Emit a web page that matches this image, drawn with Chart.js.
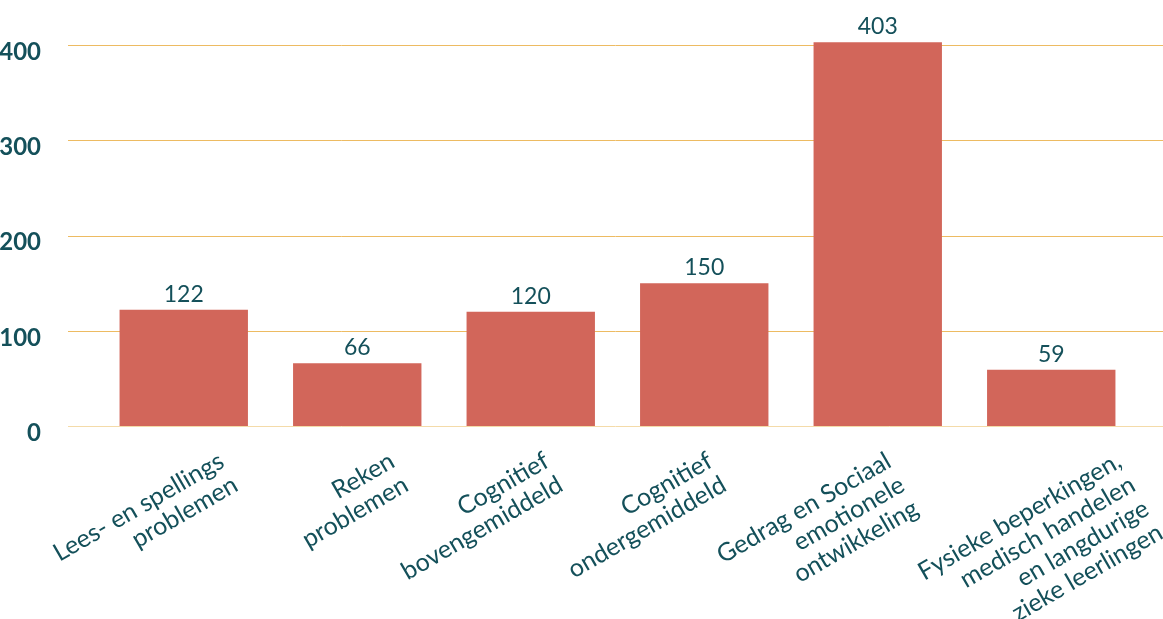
<!DOCTYPE html>
<html>
<head>
<meta charset="utf-8">
<script src="https://cdn.jsdelivr.net/npm/chart.js@4"></script>
<style>
  html, body { margin: 0; padding: 0; background: #fff; }
  #wrap { width: 1163px; height: 619px; position: relative; }
</style>
</head>
<body>
<div id="wrap"><canvas id="chart"></canvas></div>
<script>
const categories = [
  ['Lees- en spellings', 'problemen'],
  ['Reken', 'problemen'],
  ['Cognitief', 'bovengemiddeld'],
  ['Cognitief', 'ondergemiddeld'],
  ['Gedrag en Sociaal', 'emotionele', 'ontwikkeling'],
  ['Fysieke beperkingen,', 'medisch handelen', 'en langdurige', 'zieke leerlingen']
];
const values = [122, 66, 120, 150, 403, 59];
const yTicks = [0, 100, 200, 300, 400];

const textColor = '#14505a';
const barColor = '#d2665a';
const gridColor = '#edbb62';
const zeroColor = '#f4dba9';

// horizontal shift of each rotated category label, as in the original layout
const labelShift = [38, 35, 16, 6, 11, 68];

// grid lines run from left of the plot to the right edge of the canvas
const gridPlugin = {
  id: 'gridExtend',
  beforeDatasetsDraw(chart) {
    const y = chart.scales.y;
    const ctx = chart.ctx;
    ctx.save();
    ctx.lineWidth = 1;
    yTicks.forEach(v => {
      const py = Math.round(y.getPixelForValue(v)) + 0.5;
      ctx.strokeStyle = v === 0 ? zeroColor : gridColor;
      ctx.beginPath();
      ctx.moveTo(68, py);
      ctx.lineTo(chart.width, py);
      ctx.stroke();
    });
    ctx.restore();
  }
};

// value labels above the bars
const valuePlugin = {
  id: 'valueLabels',
  afterDatasetsDraw(chart) {
    const ctx = chart.ctx;
    const meta = chart.getDatasetMeta(0);
    ctx.save();
    ctx.fillStyle = textColor;
    ctx.font = '23px Lato';
    ctx.textAlign = 'center';
    ctx.textBaseline = 'bottom';
    meta.data.forEach((bar, i) => {
      ctx.fillText(String(values[i]), bar.x, bar.y - 4);
    });
    ctx.restore();
  }
};

// rotated, right aligned multi-line category labels
const categoryPlugin = {
  id: 'categoryLabels',
  afterDraw(chart) {
    const x = chart.scales.x;
    const ctx = chart.ctx;
    ctx.save();
    ctx.fillStyle = textColor;
    ctx.font = '25px Lato';
    ctx.textAlign = 'right';
    ctx.textBaseline = 'middle';
    categories.forEach((lines, i) => {
      ctx.save();
      ctx.translate(x.getPixelForValue(i) + labelShift[i], x.top + 33);
      ctx.rotate(-Math.PI / 6);
      lines.forEach((line, j) => ctx.fillText(line, 0, j * 27.5));
      ctx.restore();
    });
    ctx.restore();
  }
};

new Chart(document.getElementById('chart'), {
  type: 'bar',
  data: {
    labels: categories,
    datasets: [{
      data: values,
      backgroundColor: barColor,
      borderWidth: 0,
      barPercentage: 0.74,
      categoryPercentage: 1
    }]
  },
  options: {
    responsive: true,
    maintainAspectRatio: false,
    animation: false,
    layout: { padding: { top: 7, right: 25, left: 0, bottom: 0 } },
    plugins: {
      legend: { display: false },
      tooltip: { enabled: false }
    },
    scales: {
      x: {
        grid: { display: false, drawTicks: false },
        border: { display: false },
        afterFit(scale) { scale.height = 193; },
        ticks: { display: false }
      },
      y: {
        min: 0,
        max: 440,
        grid: { display: false },
        border: { display: false },
        afterFit(scale) {
          scale.width = 97;
          scale.paddingTop = 0;
          scale.paddingBottom = 0;
        },
        afterBuildTicks(scale) { scale.ticks = yTicks.map(v => ({ value: v })); },
        ticks: {
          color: textColor,
          font: { family: 'Lato', size: 24, weight: 'bold' },
          padding: 48,
          labelOffset: 7
        }
      }
    }
  },
  plugins: [gridPlugin, valuePlugin, categoryPlugin]
});
</script>
</body>
</html>
